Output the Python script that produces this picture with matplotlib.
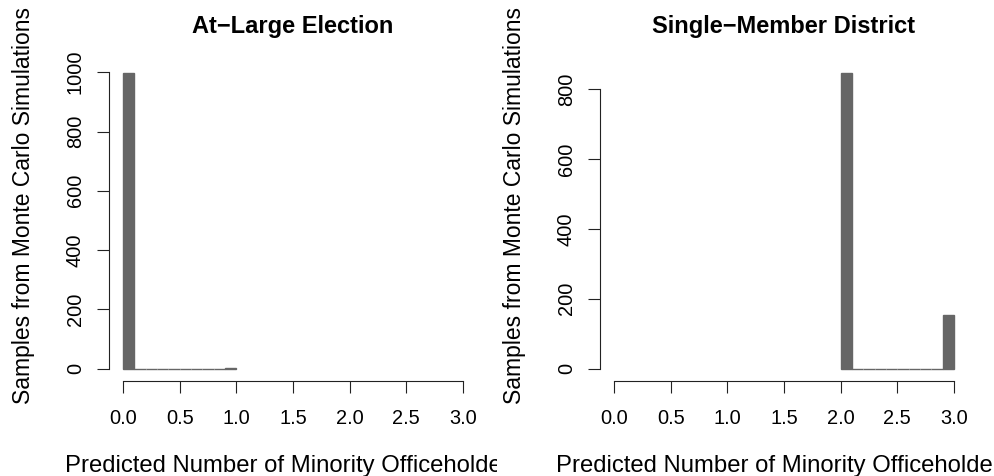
import numpy as np
import matplotlib
matplotlib.use("Agg")
import matplotlib.pyplot as plt
from matplotlib.transforms import Bbox, TransformedBbox

# histogram data (1000 Monte Carlo draws per panel)
titles = ["At\u2212Large Election", "Single\u2212Member District"]
left_edges = [0.0, 0.1, 0.2, 0.3, 0.4, 0.5, 0.6, 0.7, 0.8, 0.9, 1.0]
left_counts = [998, 0, 0, 0, 0, 0, 0, 0, 0, 2]
right_edges = [2.0, 2.1, 2.2, 2.3, 2.4, 2.5, 2.6, 2.7, 2.8, 2.9, 3.0]
right_counts = [847, 0, 0, 0, 0, 0, 0, 0, 0, 153]
x_ticks = [0.0, 0.5, 1.0, 1.5, 2.0, 2.5, 3.0]
left_yticks = [0, 200, 400, 600, 800, 1000]
right_yticks = [0, 200, 400, 600, 800]
xlab = "Predicted Number of Minority Officeholders"
ylab = "Samples from Monte Carlo Simulations"

plt.rcParams['font.family'] = ['Liberation Sans', 'DejaVu Sans']

W, H = 995, 476
fig = plt.figure(figsize=(W / 100, H / 100), dpi=100)

bar_col = "#666666"
panels = [
    (109.4, titles[0], left_edges, left_counts, left_yticks, (0, W / 2)),
    (600.4, titles[1], right_edges, right_counts, right_yticks, (W / 2, W)),
]

for x0, title, edges, counts, yticks, clip in panels:
    ax = fig.add_axes([x0 / W, (H - 380.5) / H, 367.2 / W, 319.5 / H])
    ax.bar(edges[:-1], counts, width=np.diff(edges), align="edge",
           color=bar_col, edgecolor=bar_col, linewidth=1)
    top = max(counts)
    ax.set_xlim(-0.12, 3.12)
    ax.set_ylim(-0.04 * top, 1.04 * top)

    for s in ["top", "right"]:
        ax.spines[s].set_visible(False)
    ax.spines["left"].set_bounds(yticks[0], yticks[-1])
    ax.spines["bottom"].set_bounds(x_ticks[0], x_ticks[-1])
    for s in ["left", "bottom"]:
        ax.spines[s].set_linewidth(0.8)
        ax.spines[s].set_color("#222222")

    ax.set_xticks(x_ticks)
    ax.set_xticklabels(["%.1f" % v for v in x_ticks])
    ax.set_yticks(yticks)
    ax.set_yticklabels([str(v) for v in yticks])
    ax.tick_params(axis="both", length=8.6, width=0.8, color="#222222",
                   labelsize=14.4)
    ax.tick_params(axis="x", pad=12)
    ax.tick_params(axis="y", pad=9, labelrotation=90)
    for lab in ax.get_yticklabels():
        lab.set_va("center")

    cx = (x0 + 367.2 / 2) / W
    fig.text(cx, 1 - 33 / H, title, ha="center", va="baseline",
             fontsize=17, fontweight="bold")

    # x label is centred on the panel and cut at the panel edge, as in the original
    t = fig.text(cx, 1 - 472 / H, xlab, ha="center", va="baseline",
                 fontsize=17.2)
    t.set_clip_box(TransformedBbox(Bbox([[clip[0] / W, 0], [clip[1] / W, 1]]),
                                   fig.transFigure))
    t.set_clip_on(True)

    fig.text((x0 - 86) / W, 1 - 206 / H, ylab, rotation=90,
             ha="center", va="center", fontsize=16.5)

fig.savefig("out.png", dpi=100)
